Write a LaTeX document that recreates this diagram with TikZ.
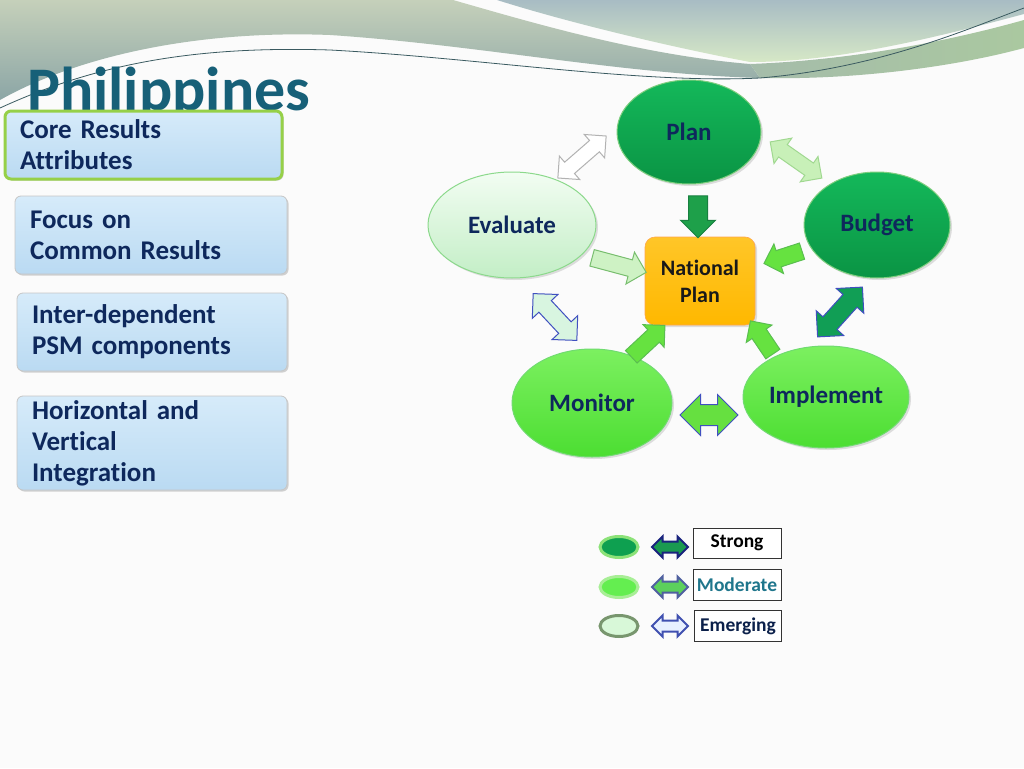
\documentclass[tikz,border=0pt]{standalone}
\usepackage{fontspec}
\setmainfont{Carlito}[Ligatures=NoCommon]
\usetikzlibrary{shapes.geometric,shapes.arrows,shadows}
\definecolor{titlec}{RGB}{23,96,120}
\definecolor{navy}{RGB}{14,40,92}
\definecolor{bgc}{RGB}{251,251,251}
\definecolor{boxtop}{RGB}{214,235,250}
\definecolor{boxbot}{RGB}{186,218,242}
\definecolor{limeb}{RGB}{150,208,72}
\definecolor{strongA}{RGB}{20,184,90}
\definecolor{strongB}{RGB}{10,148,68}
\definecolor{modA}{RGB}{124,240,96}
\definecolor{modB}{RGB}{76,222,50}
\definecolor{emA}{RGB}{242,253,242}
\definecolor{emB}{RGB}{195,238,198}
\definecolor{orangeA}{RGB}{255,198,40}
\definecolor{orangeB}{RGB}{255,184,0}
\definecolor{blueb}{RGB}{64,80,192}
\definecolor{modtext}{RGB}{31,118,140}
\begin{document}
\begin{tikzpicture}[x=1pt,y=-1pt,
  sidebox/.style={rectangle, rounded corners=6pt, top color=boxtop, bottom color=boxbot,
    draw=gray!45, line width=0.8pt, align=left, inner xsep=15pt, inner ysep=0pt,
    font=\fontsize{27}{31}\selectfont\bfseries, text=navy,
    drop shadow={shadow xshift=1.5pt, shadow yshift=-1.5pt, opacity=0.35}},
  cyc/.style={ellipse, inner sep=0pt, line width=1pt, font=\fontsize{25}{28}\selectfont\bfseries, text=navy,
    drop shadow={shadow xshift=2pt, shadow yshift=-2pt, opacity=0.25}},
  strongE/.style={top color=strongA, bottom color=strongB, draw=green!45!gray!70},
  modE/.style={top color=modA, bottom color=modB, draw=green!60!gray!70},
  emE/.style={top color=emA, bottom color=emB, draw=green!50!gray!60},
  blk/.style n args={3}{single arrow, inner xsep=0pt, inner ysep=#2pt, single arrow head extend=#3pt,
    minimum height=#1pt, line width=1pt},
  dblk/.style n args={3}{double arrow, inner xsep=0pt, inner ysep=#2pt, double arrow head extend=#3pt,
    minimum height=#1pt, line width=1pt},
  legbox/.style={rectangle, draw=black!80, line width=0.8pt, fill=white, inner sep=0pt,
    font=\fontsize{19.5}{22}\selectfont\bfseries},
  legE/.style={ellipse, minimum width=38pt, minimum height=21pt, inner sep=0pt, line width=3pt}
]
\useasboundingbox (0,0) rectangle (1024,768);
\fill[bgc] (0,0) rectangle (1024,768);
% header
\shade[top color={rgb,255:red,197;green,208;blue,186}, bottom color={rgb,255:red,140;green,166;blue,166}]
  (0,0) -- (453,0) .. controls (530,22) and (640,55) .. (750,64) -- (760,78)
  .. controls (620,74) and (480,45) .. (330,35) .. controls (200,30) and (80,55) .. (0,100) -- cycle;
\shade[top color={rgb,255:red,168;green,188;blue,196}, bottom color={rgb,255:red,214;green,232;blue,198}]
  (497,0) -- (1024,0) -- (1024,14) .. controls (920,42) and (830,62) .. (750,62)
  .. controls (660,45) and (560,20) .. (497,0) -- cycle;
\shade[left color={rgb,255:red,165;green,188;blue,170}, right color={rgb,255:red,170;green,200;blue,160}]
  (750,64) .. controls (860,60) and (960,38) .. (1024,20) -- (1024,48)
  .. controls (950,68) and (850,80) .. (760,78) -- cycle;
\draw[line width=0.8pt, color={rgb,255:red,58;green,90;blue,96}]
  (0,108) .. controls (100,62) and (200,46) .. (330,50) .. controls (480,58) and (640,84) .. (760,78)
  .. controls (880,68) and (970,28) .. (1024,8);
% title
\node[anchor=base west, inner sep=0pt, text=titlec, font=\fontsize{62}{66}\selectfont\bfseries] (title) at (27,110) {Philippines};
% side boxes
\node[sidebox, draw=limeb, line width=3pt, text width=247pt, minimum height=68pt] (b1) at (143.5,145) {Core Results\\Attributes};
\node[sidebox, text width=242pt, minimum height=78pt] (b2) at (151,235) {Focus on\\Common Results};
\node[sidebox, text width=240pt, minimum height=78pt] (b3) at (152,332) {Inter-dependent\\PSM components};
\node[sidebox, text width=240pt, minimum height=94pt] (b4) at (152,443) {Horizontal and\\Vertical\\Integration};
% cycle
\node[cyc, strongE, minimum width=144pt, minimum height=104pt] (plan) at (689,132) {Plan};
\node[cyc, emE, minimum width=168pt, minimum height=106pt] (eval) at (512,225) {Evaluate};
\node[cyc, strongE, minimum width=146pt, minimum height=106pt] (budget) at (877,225) {Budget};
\node[cyc, modE, minimum width=160pt, minimum height=108pt] (monitor) at (592,403) {Monitor};
\node[cyc, modE, minimum width=166pt, minimum height=102pt] (impl) at (826,397) {Implement};
\node[rectangle, rounded corners=10pt, top color=orangeA, bottom color=orangeB, draw=orange!70!white, line width=0.6pt,
  minimum width=110pt, minimum height=88pt, align=center, font=\fontsize{22}{27}\selectfont\bfseries, text=black!90,
  drop shadow={shadow xshift=2pt, shadow yshift=-2pt, opacity=0.25}] (np) at (700,281) {National\\Plan};
% arrows to national plan
\node[blk={42}{9}{8}, rotate=-90, fill={rgb,255:red,30;green,160;blue,74}, draw={rgb,255:red,24;green,128;blue,64}] (apn) at (698,212) {};
\node[blk={56}{8}{8}, rotate=-15, fill={rgb,255:red,206;green,242;blue,196}, draw={rgb,255:red,120;green,190;blue,110}] (aen) at (615,264) {};
\node[blk={40}{8}{7}, rotate=198, fill={rgb,255:red,102;green,226;blue,64}, draw={rgb,255:red,90;green,190;blue,80}] (abn) at (787,256) {};
\node[blk={46}{8}{7}, rotate=43, fill={rgb,255:red,102;green,226;blue,64}, draw={rgb,255:red,90;green,190;blue,80}] (amn) at (645,344) {};
\node[blk={40}{8}{7}, rotate=124, fill={rgb,255:red,102;green,226;blue,64}, draw={rgb,255:red,90;green,190;blue,80}] (ain) at (764,341) {};
% double arrows between stages
\node[dblk={64}{7}{8}, rotate=41, fill=white, draw=gray!60] (dpe) at (582,157) {};
\node[dblk={63}{7}{8}, rotate=-35, fill={rgb,255:red,200;green,240;blue,184}, draw={rgb,255:red,160;green,216;blue,144}] (dpb) at (796,160) {};
\node[dblk={64}{8}{9}, rotate=-47, fill={rgb,255:red,216;green,245;blue,224}, draw=blueb] (dem) at (555,317) {};
\node[dblk={67}{9}{9}, rotate=48, fill={rgb,255:red,17;green,158;blue,85}, draw=blueb] (dbi) at (840,312) {};
\node[dblk={58}{10}{10}, fill={rgb,255:red,102;green,224;blue,64}, draw=blueb] (dmi) at (709,415) {};
% legend
\node[legE, fill={rgb,255:red,14;green,160;blue,80}, draw={rgb,255:red,140;green,226;blue,120}] (l1) at (619,547) {};
\node[legE, fill={rgb,255:red,100;green,238;blue,80}, draw={rgb,255:red,168;green,238;blue,150}] (l2) at (619,587) {};
\node[legE, fill={rgb,255:red,216;green,248;blue,216}, draw={rgb,255:red,120;green,150;blue,110}] (l3) at (619,626) {};
\node[dblk={36}{4.5}{5}, line width=2pt, fill={rgb,255:red,26;green,154;blue,80}, draw={rgb,255:red,26;green,35;blue,126}] (la1) at (670,547) {};
\node[dblk={36}{4.5}{5}, line width=2pt, fill={rgb,255:red,92;green,208;blue,92}, draw={rgb,255:red,80;green,96;blue,160}] (la2) at (670,587) {};
\node[dblk={36}{4.5}{5}, line width=2pt, fill={rgb,255:red,232;green,240;blue,255}, draw={rgb,255:red,64;green,80;blue,176}] (la3) at (670,626) {};
\node[legbox, minimum width=88pt, minimum height=30pt, text=black] (s1) at (737,543) {Strong};
\node[legbox, minimum width=88pt, minimum height=31pt, text=modtext] (s2) at (737,585) {Moderate};
\node[legbox, minimum width=87pt, minimum height=31pt, text=navy!80!black] (s3) at (738,626) {Emerging};
\end{tikzpicture}
\end{document}
